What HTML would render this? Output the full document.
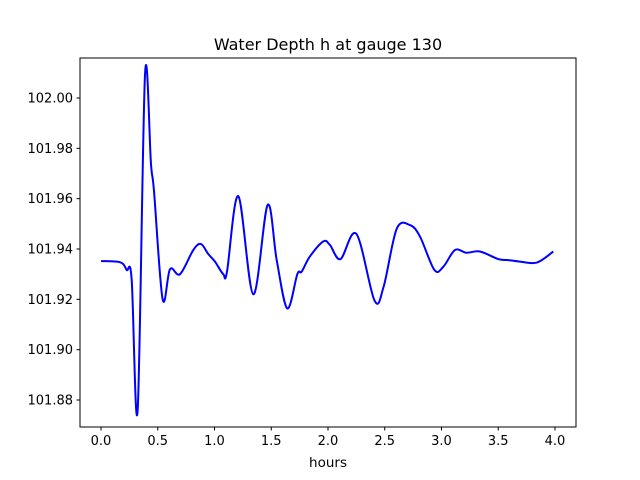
<!DOCTYPE html>
<html><head><meta charset="utf-8"><style>
html,body{margin:0;padding:0;background:#fff;}
svg{display:block;font-family:"DejaVu Sans","Liberation Sans",sans-serif;}
</style></head><body>
<svg id="chart" width="640" height="480" viewBox="0 0 640 480" xmlns="http://www.w3.org/2000/svg">
<rect width="640" height="480" fill="#fff"/>
<text x="328" y="50" font-size="16" text-anchor="middle" fill="#000">Water Depth h at gauge 130</text>
<g id="ticks"></g>
<path id="series" fill="none" stroke="#0000ff" stroke-width="2" stroke-linejoin="round"/>
<rect x="80" y="58" width="496" height="369" fill="none" stroke="#000" stroke-width="1"/>
<text x="328" y="467" font-size="13.5" text-anchor="middle" fill="#000">hours</text>
</svg>
<script>
const hours = [0,0.17,0.226,0.27,0.323,0.388,0.44,0.467,0.543,0.608,0.696,0.813,0.88,0.945,1.004,1.077,1.11,1.21,1.342,1.468,1.548,1.641,1.73,1.768,1.84,1.958,2.017,2.11,2.25,2.41,2.49,2.605,2.722,2.81,2.937,3.017,3.119,3.22,3.339,3.5,3.59,3.69,3.84,3.985];
const depth = [101.9352,101.9347,101.9317,101.928,101.876,102.0095,101.974,101.963,101.920,101.932,101.930,101.9396,101.942,101.938,101.935,101.930,101.931,101.961,101.922,101.9575,101.9356,101.9164,101.930,101.931,101.937,101.943,101.9416,101.936,101.946,101.9195,101.925,101.948,101.9495,101.945,101.9317,101.933,101.9396,101.9385,101.939,101.936,101.9356,101.935,101.9346,101.939];
const xTicks = [0,0.5,1,1.5,2,2.5,3,3.5,4];
const xTickLabels = ["0.0","0.5","1.0","1.5","2.0","2.5","3.0","3.5","4.0"];
const yTicks = [101.88,101.90,101.92,101.94,101.96,101.98,102.00];
const yTickLabels = ["101.88","101.90","101.92","101.94","101.96","101.98","102.00"];

const X = t => 101 + t * 113.5;
const Y = v => 249 - (v - 101.94) * 2516.7;
const NS = "http://www.w3.org/2000/svg";
const g = document.getElementById("ticks");
function mk(tag, attrs){const e=document.createElementNS(NS,tag);for(const k in attrs)e.setAttribute(k,attrs[k]);g.appendChild(e);return e;}
xTicks.forEach((t,i)=>{
  const l=mk("line",{x1:X(t),x2:X(t),y1:427,y2:430.5,stroke:"#000","stroke-width":1});
  
  
  const tx=mk("text",{x:X(t),y:445,"font-size":13,"text-anchor":"middle",fill:"#000"});
  tx.textContent=xTickLabels[i];
  
  
});
yTicks.forEach((v,i)=>{
  const l=mk("line",{x1:76.5,x2:80,y1:Y(v),y2:Y(v),stroke:"#000","stroke-width":1});
  
  
  const tx=mk("text",{x:73,y:Y(v)+4.5,"font-size":13,"text-anchor":"end",fill:"#000"});
  tx.textContent=yTickLabels[i];
  
  
});
const pts = hours.map((t,i)=>[X(t),Y(depth[i])]);
let d = "M"+pts[0][0]+","+pts[0][1];
for(let i=0;i<pts.length-1;i++){
  const p0=pts[Math.max(0,i-1)],p1=pts[i],p2=pts[i+1],p3=pts[Math.min(pts.length-1,i+2)];
  const c1=[p1[0]+(p2[0]-p0[0])/6,p1[1]+(p2[1]-p0[1])/6];
  const c2=[p2[0]-(p3[0]-p1[0])/6,p2[1]-(p3[1]-p1[1])/6];
  d+=" C"+c1[0]+","+c1[1]+" "+c2[0]+","+c2[1]+" "+p2[0]+","+p2[1];
}
document.getElementById("series").setAttribute("d",d);
</script>
</body></html>
